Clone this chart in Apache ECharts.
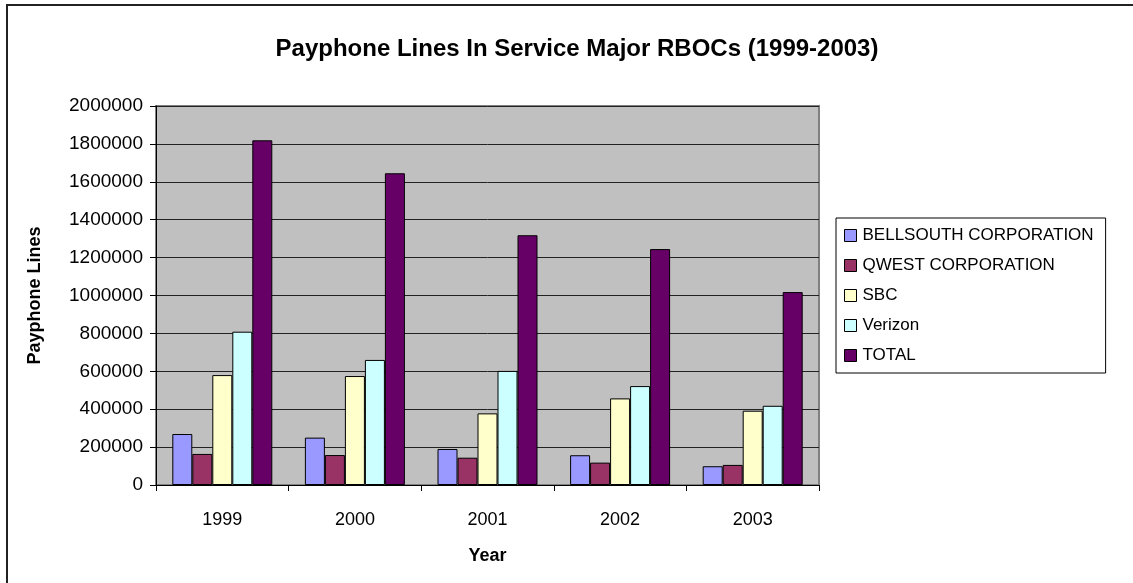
<!DOCTYPE html>
<html>
<head>
<meta charset="utf-8">
<script src="https://cdn.jsdelivr.net/npm/echarts@6/dist/echarts.min.js"></script>
<style>
html,body{margin:0;padding:0;background:#fff;}
#chart{width:1133px;height:583px;}
</style>
</head>
<body>
<div id="chart"></div>
<script>
const years = ['1999', '2000', '2001', '2002', '2003'];
const bellsouth = [269000, 250000, 190000, 157000, 99000];
const qwest = [164000, 158000, 144000, 118000, 106000];
const sbc = [580000, 575000, 378000, 457000, 392000];
const verizon = [809000, 660000, 602000, 522000, 418000];
const total = [1819000, 1645000, 1318000, 1245000, 1018000];
const seriesNames = ['BELLSOUTH CORPORATION', 'QWEST CORPORATION', 'SBC', 'Verizon', 'TOTAL'];
const seriesColors = ['#9999FF', '#993366', '#FFFFCC', '#CCFFFF', '#660066'];
const seriesData = [bellsouth, qwest, sbc, verizon, total];

const FONT = '"Liberation Sans", Arial, sans-serif';
const chart = echarts.init(document.getElementById('chart'), null, {renderer: 'canvas'});
chart.setOption({
  animation: false,
  backgroundColor: '#fff',
  textStyle: {fontFamily: FONT},
  graphic: [{
    type: 'rect', silent: true, z: -10,
    shape: {x: 7, y: 5, width: 1300, height: 800},
    style: {fill: 'none', stroke: '#222', lineWidth: 2}
  }],
  title: {
    text: 'Payphone Lines In Service Major RBOCs (1999-2003)',
    left: 572, top: 32, textAlign: 'center',
    textStyle: {fontFamily: FONT, fontSize: 24, fontWeight: 'bold', color: '#000'}
  },
  legend: {
    orient: 'vertical',
    left: 836, top: 218,
    padding: [9, 12, 9, 8],
    itemGap: 13,
    itemWidth: 12, itemHeight: 12,
    icon: 'rect',
    backgroundColor: '#fff',
    borderColor: '#000', borderWidth: 1,
    textStyle: {fontFamily: FONT, fontSize: 17, color: '#000', padding: [0, 0, 0, 1]},
    itemStyle: {borderColor: '#000', borderWidth: 1},
    data: seriesNames
  },
  grid: {
    left: 156, right: 314, top: 106, bottom: 98,
    show: true, backgroundColor: '#C0C0C0', borderColor: '#808080', borderWidth: 2
  },
  xAxis: {
    type: 'category',
    data: years,
    name: 'Year', nameLocation: 'middle', nameGap: 62,
    nameTextStyle: {fontFamily: FONT, fontSize: 18, fontWeight: 'bold', color: '#000'},
    axisLine: {lineStyle: {color: '#000', width: 1}},
    axisTick: {show: true, length: 6, lineStyle: {color: '#000'}},
    axisLabel: {fontFamily: FONT, fontSize: 18, color: '#000', margin: 26}
  },
  yAxis: {
    type: 'value',
    min: 0, max: 2000000, interval: 200000,
    name: 'Payphone Lines', nameLocation: 'middle', nameGap: 112, nameRotate: 90,
    nameTextStyle: {fontFamily: FONT, fontSize: 18, fontWeight: 'bold', color: '#000'},
    axisLine: {show: true, lineStyle: {color: '#000', width: 1}},
    axisTick: {show: true, length: 6, lineStyle: {color: '#000'}},
    axisLabel: {fontFamily: FONT, fontSize: 19, color: '#000', margin: 13, formatter: v => String(v)},
    splitLine: {show: true, lineStyle: {color: '#222', width: 1}}
  },
  series: seriesData.map((d, i) => ({
    name: seriesNames[i],
    type: 'bar',
    data: d,
    barWidth: 20,
    barGap: '0%',
    itemStyle: {color: seriesColors[i], borderColor: '#000', borderWidth: 1}
  }))
});
</script>
</body>
</html>
